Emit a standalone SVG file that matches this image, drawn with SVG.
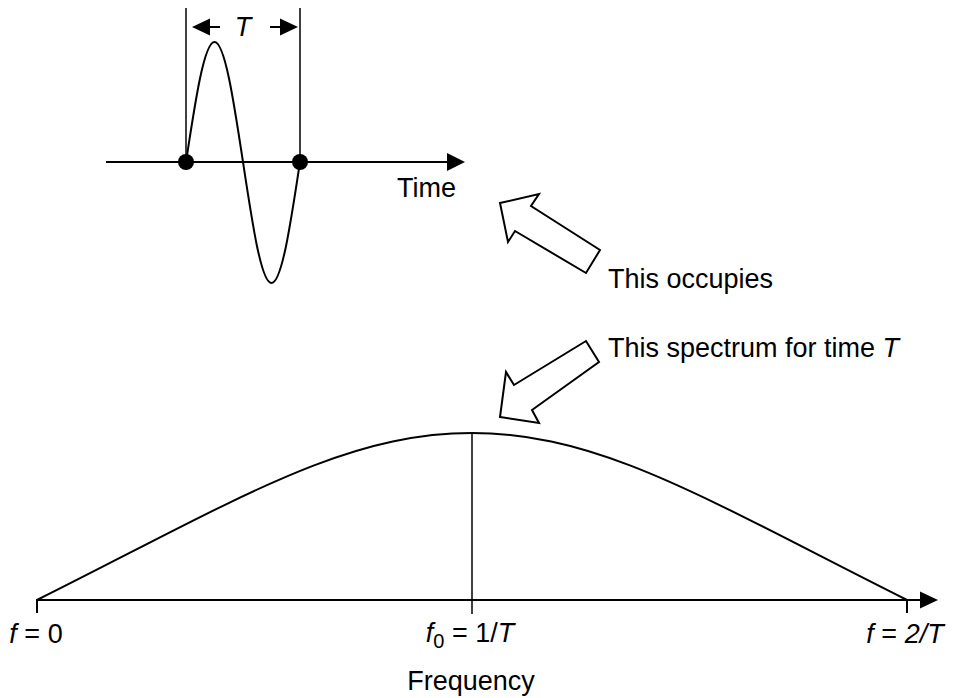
<svg xmlns="http://www.w3.org/2000/svg" width="953" height="698" viewBox="0 0 953 698">
<style>
  .ln { stroke:#000; fill:none; stroke-width:2; }
  .thin { stroke:#000; fill:none; stroke-width:1.5; }
  .tri { fill:#000; stroke:none; }
  .hollow { fill:#fff; stroke:#000; stroke-width:2; stroke-linejoin:miter; }
  .txt { font-family:"Liberation Sans", Arial, sans-serif; font-size:27px; fill:#000; }
  .it { font-style:italic; }
</style>
<rect x="0" y="0" width="953" height="698" fill="#fff"/>

<g id="time-plot">
  <line class="ln" x1="106" y1="162" x2="448" y2="162"/>
  <polygon class="tri" points="447,153 465,162 447,171"/>
  <line class="thin" x1="186" y1="8" x2="186" y2="162"/>
  <line class="thin" x1="300" y1="8" x2="300" y2="162"/>
  <path class="ln" d="M186,162 C195.3,100.5 204.2,42 214.5,42 S233.7,100.5 243,162 S261.2,283 271.5,283 S290.7,223.5 300,162"/>
  <circle cx="186" cy="162" r="8" fill="#000"/>
  <circle cx="300" cy="162" r="8" fill="#000"/>
  <line class="ln" x1="208" y1="27" x2="220" y2="27"/>
  <polygon class="tri" points="192,27 210,18.5 210,35.5"/>
  <line class="ln" x1="270" y1="27" x2="282" y2="27"/>
  <polygon class="tri" points="298,27 280,18.5 280,35.5"/>
  <text class="txt it" x="243" y="36" text-anchor="middle">T</text>
  <text class="txt" x="397" y="197">Time</text>
</g>

<g id="spectrum-plot">
  <line class="ln" x1="37" y1="600" x2="921" y2="600"/>
  <polygon class="tri" points="920,591.5 938,600 920,608.5"/>
  <line class="ln" x1="37" y1="599" x2="37" y2="613"/>
  <line class="thin" x1="472" y1="432" x2="472" y2="614"/>
  <line class="ln" x1="907" y1="599" x2="907" y2="613"/>
  <path class="ln" d="M37,600 C237,500 342,433 472,433 C602,433 707,500 907,600"/>
  <text class="txt" x="36" y="643" text-anchor="middle"><tspan class="it">f</tspan> = 0</text>
  <text class="txt" x="470" y="642" text-anchor="middle"><tspan class="it">f</tspan><tspan font-size="20" dy="6">0</tspan><tspan dy="-6"> = 1/</tspan><tspan class="it">T</tspan></text>
  <text class="txt" x="905" y="643" text-anchor="middle"><tspan class="it">f</tspan> = <tspan class="it">2/T</tspan></text>
  <text class="txt" x="471" y="690" text-anchor="middle">Frequency</text>
</g>

<g id="note-occupies">
  <text class="txt" x="608" y="288">This occupies</text>
</g>
<g id="note-spectrum">
  <text class="txt" x="608" y="357">This spectrum for time <tspan class="it">T</tspan></text>
</g>

<g id="connectors">
  <polygon class="hollow" points="500,203 539,194 531,206 600,250 586,273 515,231 508,242"/>
  <polygon class="hollow" points="500,417 539,423 532,410 599,362 586,341 514,385 506,372"/>
</g>
</svg>
